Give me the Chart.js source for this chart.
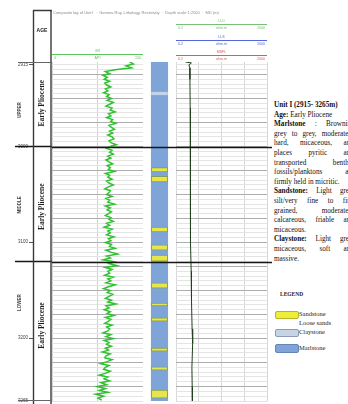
<!DOCTYPE html>
<html>
<head>
<meta charset="utf-8">
<script src="https://cdn.jsdelivr.net/npm/chart.js@4.4.1/dist/chart.umd.min.js"></script>
<style>
  html, body { margin: 0; padding: 0; background: #fff; }
  #wrap { position: relative; width: 348px; height: 404px; overflow: hidden; background: #fff; }
  #wrap canvas { position: absolute; top: 0; }
  #title { position: absolute; left: 53px; top: 10px; font: 4px "Liberation Sans", Arial, sans-serif; color: #8a8a8a; white-space: nowrap; }
  #desc { position: absolute; left: 274px; top: 101px; width: 80px; font: 7.2px/9.6px "Liberation Serif", "Times New Roman", serif; color: #111; }
  #desc div { white-space: nowrap; }
  #desc .j { text-align: justify; text-align-last: justify; white-space: normal; }
  #legend { position: absolute; left: 274px; top: 292px; font: 6.5px/1 "Liberation Serif", serif; color: #222; }
  #legend .hd { position: absolute; left: 6px; top: 0; font-weight: bold; font-size: 5.5px; }
  #legend .sw { position: absolute; left: 1px; width: 22px; border-radius: 2px; }
  #legend .lb { position: absolute; left: 25px; white-space: nowrap; }
</style>
</head>
<body>
<div id="wrap">
  <canvas id="frame" width="52" height="404" style="left:0"></canvas>
  <canvas id="gr" width="91" height="404" style="left:52px"></canvas>
  <canvas id="lith" width="33" height="404" style="left:143px"></canvas>
  <canvas id="res" width="96" height="404" style="left:176px"></canvas>
  <div id="title">Composite log of Unit I &nbsp;&middot;&nbsp; Gamma Ray, Lithology, Resistivity &nbsp;&middot;&nbsp; Depth scale 1:2500 &nbsp;&middot;&nbsp; MD (m)</div>
  <div id="desc">
    <div><b>Unit I (2915- 3265m)</b></div>
    <div><b>Age:</b> Early Pliocene</div>
    <div class="j"><b>Marlstone</b> : Brownish</div>
    <div class="j">grey to grey, moderately</div>
    <div class="j">hard, micaceous, and</div>
    <div class="j">places pyritic and</div>
    <div class="j">transported benthic</div>
    <div class="j">fossils/planktons are</div>
    <div>firmly held in micritic.</div>
    <div class="j"><b>Sandstone:</b> Light grey,</div>
    <div class="j">silt/very fine to fine</div>
    <div class="j">grained, moderately</div>
    <div class="j">calcareous, friable and</div>
    <div>micaceous.</div>
    <div class="j"><b>Claystone:</b> Light grey,</div>
    <div class="j">micaceous, soft and</div>
    <div>massive.</div>
  </div>
  <div id="legend">
    <div class="hd">LEGEND</div>
    <div class="sw" style="top:19px;height:6px;background:#eeee3a;border:1px solid #b5b52a"></div>
    <div class="lb" style="top:19px">Sandstone</div>
    <div class="lb" style="top:28px">Loose sands</div>
    <div class="sw" style="top:37px;height:6px;background:#c7d4e6;border:1px solid #8b9bb5"></div>
    <div class="lb" style="top:37px">Claystone</div>
    <div class="sw" style="top:52px;height:7px;background:#7ea4d8;border:1px solid #6685b8"></div>
    <div class="lb" style="top:53px">Marlstone</div>
  </div>
</div>
<script>
// depth frame (m)
const depthMin = 2912;
const depthMax = 3265;
const depthTicks = [2915, 3000, 3100, 3200, 3265];
const ageBoundaries = [3000, 3120];
const ageZones = ['UPPER', 'MIDDLE', 'LOWER'];
const zoneLabelDepth = [2962, 3061, 3163];
const ageName = 'Early Pliocene';
const ageLabelDepth = [2955, 3063, 3187];

// gamma ray, sampled every 2 m from 2912 m (API)
const grTop = 2912;
const grStep = 2;
const grValues = [
  128, 134, 122, 131, 104, 88, 95, 84, 91, 86,
  95, 87, 90, 97, 88, 92, 85, 94, 90, 98,
  91, 101, 95, 89, 99, 96, 104, 93, 97, 90,
  100, 97, 105, 94, 98, 103, 95, 100, 92, 99,
  102, 94, 97, 106, 96, 90, 99, 95, 101, 92,
  97, 89, 94, 100, 91, 96, 93, 103, 88, 95,
  92, 99, 90, 94, 101, 93, 87, 96, 94, 90,
  99, 89, 95, 92, 103, 88, 96, 91, 98, 93,
  88, 97, 94, 101, 90, 95, 86, 99, 92, 96,
  90, 102, 93, 97, 88, 98, 95, 104, 89, 97,
  108, 90, 96, 84, 103, 94, 107, 88, 99, 92,
  95, 87, 101, 92, 97, 89, 104, 93, 85, 96,
  91, 100, 94, 88, 98, 92, 105, 89, 94, 86,
  96, 91, 102, 88, 97, 93, 87, 99, 90, 95,
  92, 84, 97, 89, 101, 86, 94, 90, 98, 88,
  93, 83, 96, 89, 87, 99, 91, 80, 94, 88,
  85, 96, 89, 78, 92, 86, 95, 81, 90, 74,
  88, 78, 92, 72, 85, 76, 82
];

// resistivity (ohm.m)
const resDepth = [2912, 2913, 2915, 2918, 2930, 2960, 3000, 3030, 3060, 3100, 3130, 3160, 3190, 3205, 3230, 3250, 3265];
const resValue = [0.52, 0.95, 0.74, 0.8, 0.82, 0.84, 0.83, 0.86, 0.88, 0.9, 0.93, 0.96, 1.02, 1.08, 1.0, 1.03, 1.05];

// lithology intervals (m)
const sandTop  = [3022, 3031, 3084, 3102.5, 3113, 3142, 3163, 3178.5, 3210, 3229.5, 3253.5];
const sandBase = [3026.5, 3037, 3089, 3108, 3119.5, 3147.5, 3166, 3182, 3213, 3233, 3262];
const clayTop  = [2943];
const clayBase = [2946.5];

const gridDepths = [];
for (let d = 2915; d <= depthMax; d += 5) gridDepths.push(d);

Chart.defaults.font.family = '"Liberation Sans", Arial, sans-serif';
Chart.defaults.animation = false;
Chart.defaults.responsive = false;
Chart.defaults.plugins.legend.display = false;
Chart.defaults.plugins.tooltip.enabled = false;

const pad = { top: 62, bottom: 3, left: 0, right: 0 };

function trackY() {
  return {
    type: 'linear', reverse: true, min: depthMin, max: depthMax,
    afterBuildTicks: s => { s.ticks = gridDepths.map(v => ({ value: v })); },
    ticks: { display: false },
    border: { display: false },
    grid: {
      drawTicks: false,
      color: c => (c.tick && c.tick.value % 25 === 0) ? '#adadad' : '#e4e4e4'
    }
  };
}

function boundaryLines(fromX) {
  return {
    id: 'boundary',
    afterDatasetsDraw(chart) {
      const { ctx, scales: { y } } = chart;
      ctx.save();
      ctx.strokeStyle = '#161616';
      ctx.lineWidth = 1.6;
      ageBoundaries.forEach(d => {
        const py = Math.round(y.getPixelForValue(d)) + 0.5;
        ctx.beginPath();
        ctx.moveTo(fromX, py);
        ctx.lineTo(chart.width, py);
        ctx.stroke();
      });
      ctx.restore();
    }
  };
}

function headerLines(rows) {
  return {
    id: 'header',
    afterDraw(chart) {
      const { ctx, scales: { x } } = chart;
      const l = x.left, r = x.right, m = (l + r) / 2;
      ctx.save();
      ctx.textBaseline = 'middle';
      ctx.font = '3.6px "Liberation Sans", Arial';
      rows.forEach(h => {
        ctx.strokeStyle = h.color;
        ctx.lineWidth = 1;
        ctx.beginPath();
        ctx.moveTo(l, h.y + 0.5);
        ctx.lineTo(r, h.y + 0.5);
        ctx.stroke();
        ctx.fillStyle = h.color;
        ctx.textAlign = 'left';
        ctx.fillText(String(x.min), l + 2, h.y + 4);
        ctx.textAlign = 'right';
        ctx.fillText(String(x.max), r - 2, h.y + 4);
        ctx.textAlign = 'center';
        ctx.fillText(h.name, m, h.y - 3);
        ctx.fillText(h.unit, m, h.y + 4);
      });
      ctx.restore();
    }
  };
}

// depth + age column
new Chart(document.getElementById('frame'), {
  type: 'line',
  data: { datasets: [] },
  options: {
    layout: { padding: pad },
    scales: {
      x: { type: 'linear', display: false, min: 0, max: 1 },
      y: {
        type: 'linear', reverse: true, min: depthMin, max: depthMax,
        afterBuildTicks: s => { s.ticks = depthTicks.map(v => ({ value: v })); },
        afterFit: s => { s.width = 33; },
        ticks: { callback: v => String(v), font: { size: 4.5 }, color: '#444', padding: 1 },
        border: { display: false },
        grid: { drawOnChartArea: false, drawTicks: true, tickLength: 4, color: '#555' }
      }
    }
  },
  plugins: [boundaryLines(15), {
    id: 'ageColumn',
    afterDraw(chart) {
      const { ctx, chartArea: a, scales: { y } } = chart;
      ctx.save();
      ctx.strokeStyle = '#3a3a3a';
      ctx.lineWidth = 1.4;
      ctx.beginPath();
      ctx.moveTo(a.left + 0.5, 10); ctx.lineTo(a.left + 0.5, 404);
      ctx.moveTo(a.right - 1, 10); ctx.lineTo(a.right - 1, 404);
      ctx.moveTo(a.left, 10.5); ctx.lineTo(a.right, 10.5);
      ctx.stroke();
      ctx.strokeStyle = '#666';
      ctx.lineWidth = 1;
      [depthMin, depthMax].forEach(d => {
        const py = Math.round(y.getPixelForValue(d)) + 0.5;
        ctx.beginPath(); ctx.moveTo(18, py); ctx.lineTo(a.right, py); ctx.stroke();
      });
      const cx = (a.left + a.right) / 2;
      ctx.fillStyle = '#222';
      ctx.textAlign = 'center';
      ctx.textBaseline = 'middle';
      ctx.font = 'bold 5px "Liberation Sans", Arial';
      ctx.fillText('AGE', cx - 0.5, 31);
      ageZones.forEach((z, i) => {
        ctx.save();
        ctx.translate(20, y.getPixelForValue(zoneLabelDepth[i]));
        ctx.rotate(-Math.PI / 2);
        ctx.font = 'bold 4.5px "Liberation Sans", Arial';
        ctx.fillStyle = '#444';
        ctx.fillText(z, 0, 0);
        ctx.restore();
      });
      ageLabelDepth.forEach(d => {
        ctx.save();
        ctx.translate(cx - 0.5, y.getPixelForValue(d));
        ctx.rotate(-Math.PI / 2);
        ctx.font = 'bold 7.5px "Liberation Serif", serif';
        ctx.fillStyle = '#1e1e1e';
        ctx.fillText(ageName, 0, 0);
        ctx.restore();
      });
      ctx.restore();
    }
  }]
});

// gamma ray track
new Chart(document.getElementById('gr'), {
  type: 'line',
  data: {
    datasets: [{
      label: 'GR',
      data: grValues.map((v, i) => ({ x: v, y: grTop + i * grStep })),
      borderColor: '#2fc12f',
      borderWidth: 1.5,
      pointRadius: 0
    }]
  },
  options: {
    indexAxis: 'y',
    layout: { padding: pad },
    scales: {
      x: {
        type: 'linear', min: 0, max: 150,
        afterBuildTicks: s => { s.ticks = [0, 75, 150].map(v => ({ value: v })); },
        ticks: { display: false },
        border: { display: false },
        grid: { drawTicks: false, color: '#d2d2d2' }
      },
      y: trackY()
    }
  },
  plugins: [boundaryLines(0), headerLines([{ y: 54, color: '#5cc65c', name: 'GR', unit: 'API' }])]
});

// lithology column
const toBars = (tops, bases) => tops.map((t, i) => ({ x: 0.5, y: [t, bases[i]] }));
new Chart(document.getElementById('lith'), {
  type: 'bar',
  data: {
    datasets: [
      { label: 'Sandstone', data: toBars(sandTop, sandBase), backgroundColor: '#e4e64a', borderColor: '#8c9a58', borderWidth: 1, borderSkipped: false },
      { label: 'Claystone', data: toBars(clayTop, clayBase), backgroundColor: '#c4d4e8', borderColor: '#a4b6cf', borderWidth: 0.5, borderSkipped: false },
      { label: 'Marlstone', data: toBars([depthMin], [depthMax]), backgroundColor: '#7ea4d8', borderWidth: 0 }
    ]
  },
  options: {
    layout: { padding: pad },
    grouped: false,
    barPercentage: 1,
    categoryPercentage: 1,
    scales: {
      x: { type: 'linear', min: 0, max: 1, display: false },
      y: { type: 'linear', reverse: true, min: depthMin, max: depthMax, display: false }
    }
  },
  plugins: [boundaryLines(0)]
});

// resistivity track
new Chart(document.getElementById('res'), {
  type: 'line',
  data: {
    datasets: [{
      label: 'LLD',
      data: resValue.map((v, i) => ({ x: v, y: resDepth[i] })),
      borderColor: '#23401f',
      borderWidth: 1,
      pointRadius: 0
    }]
  },
  options: {
    indexAxis: 'y',
    layout: { padding: { top: 62, bottom: 3, left: 0, right: 5 } },
    scales: {
      x: {
        type: 'logarithmic', min: 0.2, max: 2000,
        afterBuildTicks: s => { s.ticks = [0.2, 2, 20, 200, 2000].map(v => ({ value: v })); },
        ticks: { display: false },
        border: { display: false },
        grid: { drawTicks: false, color: '#d8d8d8' }
      },
      y: trackY()
    }
  },
  plugins: [boundaryLines(0), headerLines([
    { y: 24, color: '#76c076', name: 'LLD', unit: 'ohm.m' },
    { y: 40, color: '#5466dc', name: 'LLS', unit: 'ohm.m' },
    { y: 55, color: '#e05a5a', name: 'MSFL', unit: 'ohm.m' }
  ])]
});
</script>
</body>
</html>
